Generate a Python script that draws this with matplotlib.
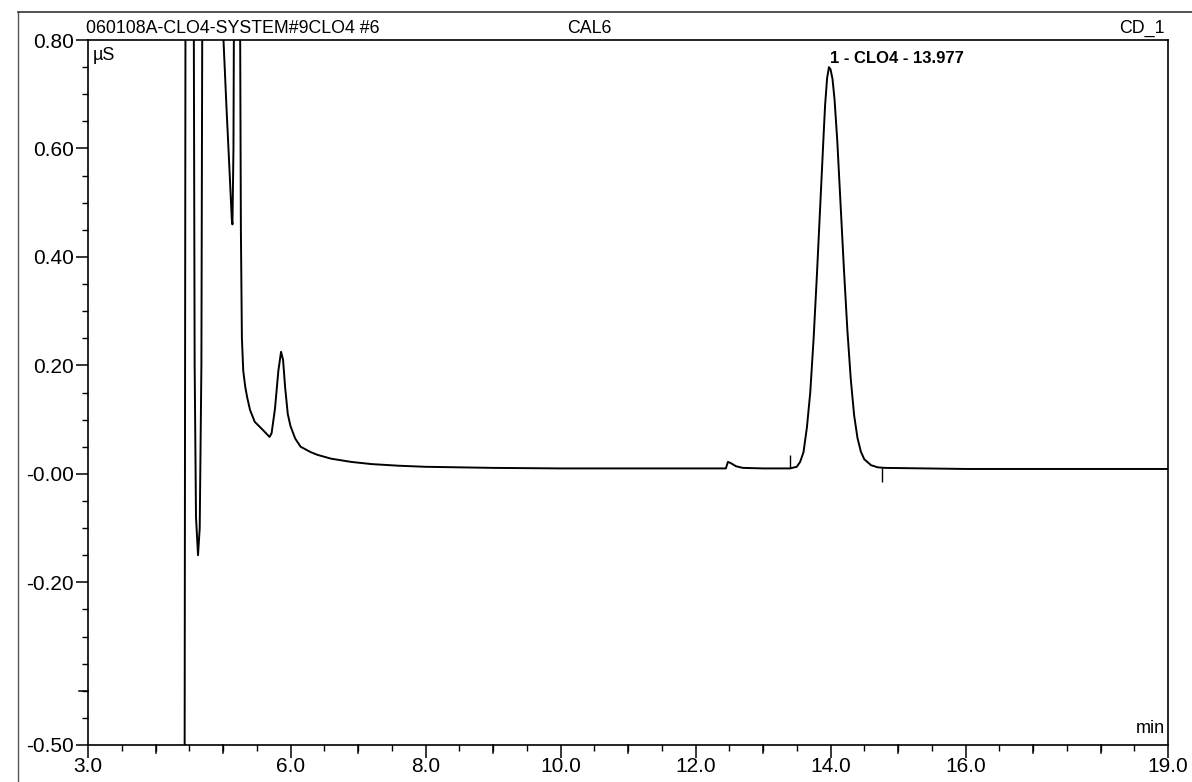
import matplotlib
matplotlib.use("Agg")
import matplotlib.pyplot as plt
from matplotlib.lines import Line2D

plt.rcParams['font.family'] = ['Liberation Sans', 'DejaVu Sans']

# ---- data ----
time_min = [4.43, 4.445, 4.565, 4.58, 4.60, 4.63, 4.655, 4.68, 4.695,
            5.00, 5.05, 5.10, 5.13, 5.14, 5.155, 5.165,
            5.25, 5.265, 5.28, 5.30, 5.33, 5.36, 5.40, 5.47, 5.59, 5.69,
            5.72, 5.77, 5.82, 5.86, 5.89, 5.92, 5.96, 6.00, 6.07, 6.15,
            6.30, 6.40, 6.60, 6.90, 7.20, 7.60, 8.00, 9.00, 10.00, 11.00,
            12.00, 12.45, 12.48, 12.52, 12.60, 12.70, 13.00, 13.40,
            13.50, 13.55, 13.60, 13.65, 13.70, 13.75, 13.80, 13.85, 13.90,
            13.92, 13.95, 13.977, 14.00, 14.03, 14.06, 14.10, 14.15, 14.20,
            14.25, 14.30, 14.35, 14.40, 14.45, 14.50, 14.60, 14.70, 14.80,
            16.00, 19.00]
signal_us = [-0.70, 0.95, 0.95, 0.20, -0.08, -0.15, -0.10, 0.20, 0.95,
             0.82, 0.68, 0.55, 0.47, 0.46, 0.60, 0.95,
             0.95, 0.45, 0.25, 0.19, 0.16, 0.14, 0.118, 0.096, 0.081, 0.068,
             0.075, 0.12, 0.19, 0.225, 0.21, 0.16, 0.11, 0.088, 0.065, 0.050,
             0.040, 0.035, 0.028, 0.022, 0.018, 0.015, 0.013, 0.011, 0.010, 0.010,
             0.010, 0.010, 0.022, 0.020, 0.014, 0.011, 0.010, 0.010,
             0.013, 0.022, 0.040, 0.085, 0.150, 0.250, 0.370, 0.500, 0.630,
             0.680, 0.730, 0.750, 0.746, 0.728, 0.690, 0.615, 0.495, 0.375,
             0.265, 0.175, 0.108, 0.066, 0.041, 0.027, 0.016, 0.012, 0.011,
             0.009, 0.009]

peak_label = "1 - CLO4 - 13.977"
peak_time = 13.977
peak_height = 0.750
marker_times = [13.40, 14.76]
marker_tops = [0.035, 0.010]
marker_bottoms = [0.010, -0.015]

x_labeled = [3.0, 6.0, 8.0, 10.0, 12.0, 14.0, 16.0, 19.0]
y_labeled = [0.80, 0.60, 0.40, 0.20, 0.00, -0.20, -0.50]
y_labels = ["0.80", "0.60", "0.40", "0.20", "-0.00", "-0.20", "-0.50"]

header_left = "060108A-CLO4-SYSTEM#9CLO4 #6"
header_mid = "CAL6"
header_right = "CD_1"

W, H = 1192, 782
fig = plt.figure(figsize=(W / 100, H / 100), dpi=100)
fig.patch.set_facecolor('white')

L, R, T, B = 88, 1168, 40, 745
ax = fig.add_axes([L / W, (H - B) / H, (R - L) / W, (B - T) / H])
ax.set_xlim(3.0, 19.0)
ax.set_ylim(-0.50, 0.80)

ax.plot(time_min, signal_us, color='black', lw=1.4, solid_joinstyle='round')
ax.vlines(marker_times, marker_bottoms, marker_tops, color='black', lw=1.0)
ax.text(peak_time + 0.02, peak_height + 0.002, peak_label, fontsize=12,
        fontweight='bold', ha='left', va='bottom')

for s in ax.spines.values():
    s.set_linewidth(1.2)

# x ticks: labeled (long), whole minutes (medium), half minutes (short)
ax.set_xticks(x_labeled)
ax.set_xticklabels([f"{v:.1f}" for v in x_labeled], fontsize=15)
ax.set_xticks([t / 2 for t in range(6, 39)], minor=True)
ax.tick_params(axis='x', which='major', direction='out', length=9, width=1.1, pad=0)
ax.tick_params(axis='x', which='minor', direction='out', length=4, width=1.0)
for t in range(4, 19):
    if float(t) not in x_labeled:
        ax.plot([t, t], [0, -0.012], transform=ax.get_xaxis_transform(),
                color='black', lw=1.1, clip_on=False)

# y ticks
ax.set_yticks(y_labeled)
ax.set_yticklabels(y_labels, fontsize=15)
ax.set_yticks([v / 100 for v in range(-50, 81, 5)], minor=True)
ax.tick_params(axis='y', which='major', direction='out', length=9, width=1.1, pad=1)
ax.tick_params(axis='y', which='minor', direction='out', length=4, width=1.0)
ax.plot([0, -0.008], [-0.40, -0.40], transform=ax.get_yaxis_transform(),
        color='black', lw=1.1, clip_on=False)

ax.text(0.004, 0.99, "µS", transform=ax.transAxes, fontsize=13, ha='left', va='top')
ax.text(0.997, 0.012, "min", transform=ax.transAxes, fontsize=13, ha='right', va='bottom')

# header line texts
fig.text(L / W - 0.002, 1 - 37 / H, header_left, fontsize=12.8, ha='left', va='bottom')
fig.text(567 / W, 1 - 37 / H, header_mid, fontsize=12.8, ha='left', va='bottom')
fig.text(1165 / W, 1 - 37 / H, header_right, fontsize=12.8, ha='right', va='bottom')

# page frame
fig.add_artist(Line2D([18 / W, 18 / W], [0, 1 - 12 / H], color='#555555', lw=1.0))
fig.add_artist(Line2D([18 / W, 1.0], [1 - 12 / H, 1 - 12 / H], color='#333333', lw=1.2))

fig.savefig("out.png", dpi=100)
